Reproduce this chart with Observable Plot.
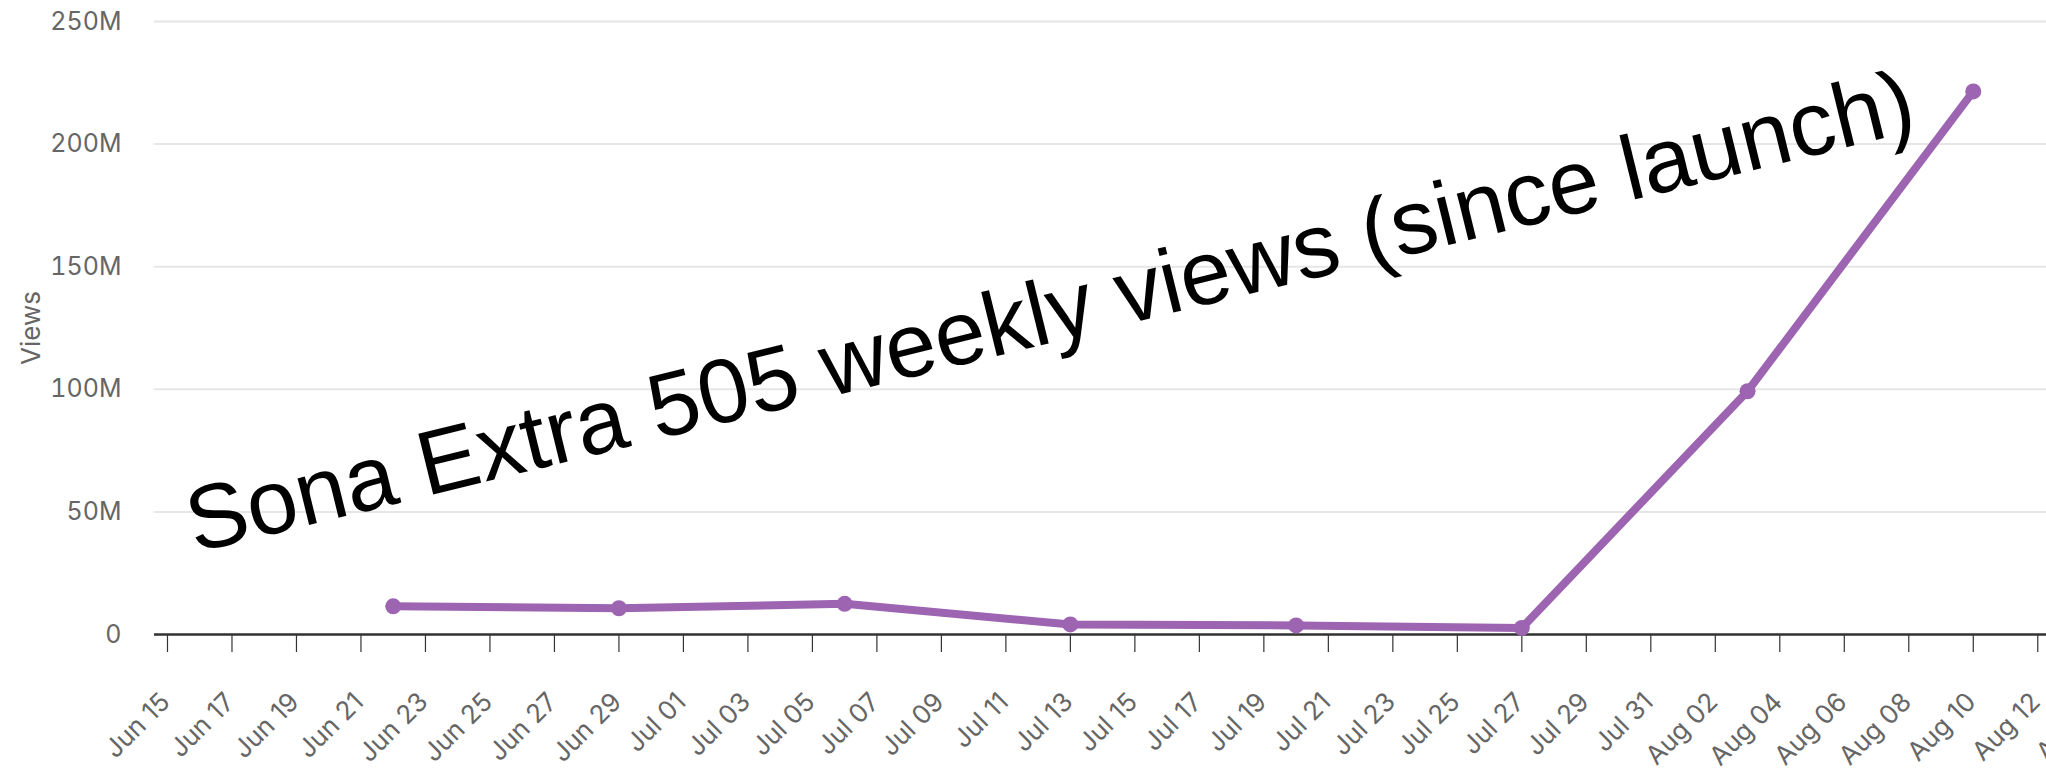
<!DOCTYPE html>
<html>
<head>
<meta charset="utf-8">
<script src="https://cdn.jsdelivr.net/npm/d3@7"></script>
<script src="https://cdn.jsdelivr.net/npm/@observablehq/plot@0.6"></script>
<style>
  html, body { margin: 0; padding: 0; background: white; }
  #wrap { position: relative; width: 2046px; height: 776px; overflow: hidden; }
  #title {
    position: absolute;
    left: 195px;
    top: 476px;
    font-family: "Liberation Sans", Arial, sans-serif;
    font-size: 91px;
    line-height: 1;
    color: #000;
    white-space: nowrap;
    transform-origin: 0 77px;
    transform: rotate(-13.8deg);
  }
</style>
</head>
<body>
<div id="wrap">
  <div id="chart"></div>
  <div id="title">Sona Extra 505 weekly views (since launch)</div>
</div>
<script>
// Weekly data points
const weeks = ["2025-06-22", "2025-06-29", "2025-07-06", "2025-07-13", "2025-07-20", "2025-07-27", "2025-08-03", "2025-08-10"];
const views = [11.5e6, 10.7e6, 12.5e6, 4.1e6, 3.7e6, 2.7e6, 99.2e6, 221.5e6];

// Axis ticks
const xTicks = ["2025-06-15", "2025-06-17", "2025-06-19", "2025-06-21", "2025-06-23", "2025-06-25", "2025-06-27", "2025-06-29",
  "2025-07-01", "2025-07-03", "2025-07-05", "2025-07-07", "2025-07-09", "2025-07-11", "2025-07-13", "2025-07-15",
  "2025-07-17", "2025-07-19", "2025-07-21", "2025-07-23", "2025-07-25", "2025-07-27", "2025-07-29", "2025-07-31",
  "2025-08-02", "2025-08-04", "2025-08-06", "2025-08-08", "2025-08-10", "2025-08-12", "2025-08-14"];
const xDomain = ["2025-06-14T14:20:00Z", "2025-08-12T06:30:00Z"];
const yTicks = [0, 50e6, 100e6, 150e6, 200e6, 250e6];
const yLabels = ["0", "50M", "100M", "150M", "200M", "250M"];
const yLabel = "Views";

const data = weeks.map((w, i) => ({date: new Date(w + "T00:00:00Z"), views: views[i]}));
const tickDates = xTicks.map(d => new Date(d + "T00:00:00Z"));
const fmt = d3.utcFormat("%b %d");

const purple = "#9d64b1";
const fs = 25;

const chart = Plot.plot({
  width: 2046,
  height: 776,
  marginLeft: 154,
  marginRight: 0,
  marginTop: 21,
  marginBottom: 142,
  style: {fontFamily: "Inter, 'Open Sans', sans-serif", fontSize: fs + "px", background: "white", overflow: "hidden"},
  x: {type: "utc", domain: xDomain.map(d => new Date(d))},
  y: {domain: [0, 250e6]},
  marks: [
    Plot.gridY(yTicks, {stroke: "#e6e6e6", strokeOpacity: 1, strokeWidth: 2}),
    Plot.axisY(yTicks, {
      tickSize: 0, tickPadding: 33, fill: "#666", fontSize: fs,
      tickFormat: (d) => yLabels[yTicks.indexOf(d)],
      label: null
    }),
    Plot.text([yLabel], {frameAnchor: "left", rotate: -90, textAnchor: "middle", lineAnchor: "middle", dx: -123, fontSize: 26, fill: "#666"}),
    Plot.axisX(tickDates, {tickSize: 18, stroke: "#333", strokeWidth: 1.2, tickFormat: () => "", label: null}),
    Plot.ruleY([0], {stroke: "#333", strokeWidth: 2.5}),
    Plot.text(tickDates, {
      x: d => d, frameAnchor: "bottom", text: d => fmt(d),
      rotate: -45, textAnchor: "end", lineAnchor: "bottom",
      dx: 4, dy: 69, fill: "#666", fontSize: 26
    }),
    Plot.line(data, {x: "date", y: "views", stroke: purple, strokeWidth: 8, strokeLinejoin: "round", strokeLinecap: "round"}),
    Plot.dot(data, {x: "date", y: "views", r: 8, fill: purple, stroke: "none"})
  ]
});
document.getElementById("chart").appendChild(chart);
</script>
</body>
</html>
